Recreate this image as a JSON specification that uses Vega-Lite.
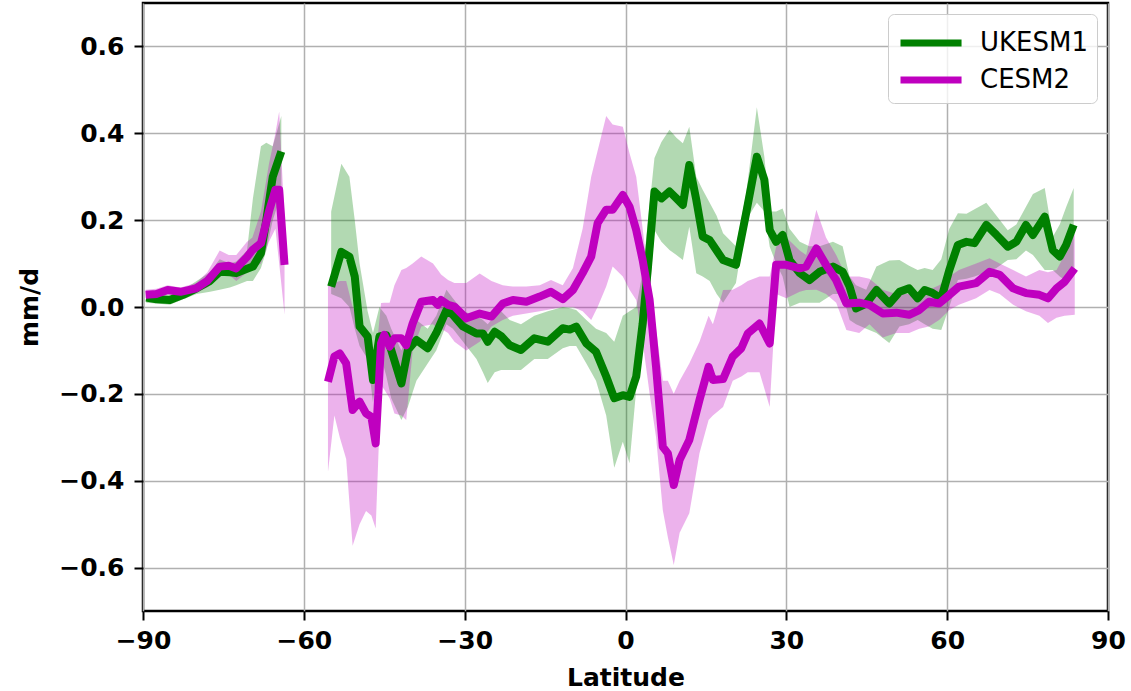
{
  "$schema": "https://vega.github.io/schema/vega-lite/v6.json",
  "autosize": {"type": "none"},
  "padding": {"left": 143, "top": 3, "right": 23, "bottom": 80},
  "width": 965,
  "height": 608,
  "background": "white",
  "config": {
    "view": {"stroke": "black", "strokeWidth": 2.5},
    "font": "DejaVu Sans",
    "axis": {
      "domain": false,
      "grid": true,
      "gridColor": "#b0b0b0",
      "gridWidth": 1.5,
      "tickColor": "black",
      "tickWidth": 2,
      "tickSize": 9,
      "labelFlush": false,
      "labelFont": "DejaVu Sans",
      "labelFontSize": 25,
      "labelFontWeight": "bold",
      "labelColor": "black",
      "titleFont": "DejaVu Sans",
      "titleFontSize": 25,
      "titleFontWeight": "bold",
      "titleColor": "black"
    }
  },
  "data": {"values": [
    {"m":"UKESM1","s":"A","lat":-89.4,"y":0.022,"lo":0.010,"hi":0.035},
    {"m":"UKESM1","s":"A","lat":-87.5,"y":0.018,"lo":0.008,"hi":0.030},
    {"m":"UKESM1","s":"A","lat":-85.0,"y":0.016,"lo":0.005,"hi":0.028},
    {"m":"UKESM1","s":"A","lat":-82.5,"y":0.028,"lo":0.018,"hi":0.040},
    {"m":"UKESM1","s":"A","lat":-80.0,"y":0.043,"lo":0.030,"hi":0.060},
    {"m":"UKESM1","s":"A","lat":-77.5,"y":0.060,"lo":0.035,"hi":0.080},
    {"m":"UKESM1","s":"A","lat":-75.7,"y":0.081,"lo":0.040,"hi":0.110},
    {"m":"UKESM1","s":"A","lat":-73.8,"y":0.080,"lo":0.045,"hi":0.100},
    {"m":"UKESM1","s":"A","lat":-72.6,"y":0.078,"lo":0.050,"hi":0.105},
    {"m":"UKESM1","s":"A","lat":-70.6,"y":0.088,"lo":0.060,"hi":0.130},
    {"m":"UKESM1","s":"A","lat":-69.5,"y":0.093,"lo":0.060,"hi":0.250},
    {"m":"UKESM1","s":"A","lat":-68.0,"y":0.124,"lo":0.090,"hi":0.370},
    {"m":"UKESM1","s":"A","lat":-67.0,"y":0.200,"lo":0.130,"hi":0.378},
    {"m":"UKESM1","s":"A","lat":-65.8,"y":0.300,"lo":0.200,"hi":0.370},
    {"m":"UKESM1","s":"A","lat":-64.2,"y":0.358,"lo":0.260,"hi":0.440},
    {"m":"UKESM1","s":"B","lat":-54.9,"y":0.047,"lo":0.03,"hi":0.22},
    {"m":"UKESM1","s":"B","lat":-53.0,"y":0.127,"lo":0.02,"hi":0.33},
    {"m":"UKESM1","s":"B","lat":-51.5,"y":0.116,"lo":0.00,"hi":0.30},
    {"m":"UKESM1","s":"B","lat":-50.5,"y":0.070,"lo":-0.05,"hi":0.20},
    {"m":"UKESM1","s":"B","lat":-49.6,"y":-0.045,"lo":-0.09,"hi":0.10},
    {"m":"UKESM1","s":"B","lat":-48.1,"y":-0.068,"lo":-0.12,"hi":-0.01},
    {"m":"UKESM1","s":"B","lat":-47.1,"y":-0.168,"lo":-0.22,"hi":-0.06},
    {"m":"UKESM1","s":"B","lat":-45.9,"y":-0.068,"lo":-0.10,"hi":0.00},
    {"m":"UKESM1","s":"B","lat":-44.6,"y":-0.065,"lo":-0.16,"hi":-0.02},
    {"m":"UKESM1","s":"B","lat":-43.7,"y":-0.099,"lo":-0.21,"hi":-0.05},
    {"m":"UKESM1","s":"B","lat":-41.8,"y":-0.176,"lo":-0.26,"hi":-0.10},
    {"m":"UKESM1","s":"B","lat":-40.6,"y":-0.099,"lo":-0.23,"hi":-0.06},
    {"m":"UKESM1","s":"B","lat":-39.0,"y":-0.076,"lo":-0.17,"hi":-0.03},
    {"m":"UKESM1","s":"B","lat":-36.9,"y":-0.095,"lo":-0.13,"hi":-0.05},
    {"m":"UKESM1","s":"B","lat":-35.3,"y":-0.060,"lo":-0.10,"hi":-0.02},
    {"m":"UKESM1","s":"B","lat":-33.4,"y":-0.007,"lo":-0.04,"hi":0.04},
    {"m":"UKESM1","s":"B","lat":-32.2,"y":-0.018,"lo":-0.05,"hi":0.02},
    {"m":"UKESM1","s":"B","lat":-30.3,"y":-0.045,"lo":-0.08,"hi":-0.01},
    {"m":"UKESM1","s":"B","lat":-27.8,"y":-0.061,"lo":-0.12,"hi":-0.02},
    {"m":"UKESM1","s":"B","lat":-26.6,"y":-0.061,"lo":-0.15,"hi":-0.03},
    {"m":"UKESM1","s":"B","lat":-25.7,"y":-0.080,"lo":-0.175,"hi":-0.04},
    {"m":"UKESM1","s":"B","lat":-24.4,"y":-0.057,"lo":-0.15,"hi":-0.02},
    {"m":"UKESM1","s":"B","lat":-23.2,"y":-0.067,"lo":-0.145,"hi":-0.01},
    {"m":"UKESM1","s":"B","lat":-21.6,"y":-0.088,"lo":-0.145,"hi":-0.03},
    {"m":"UKESM1","s":"B","lat":-19.5,"y":-0.099,"lo":-0.145,"hi":-0.04},
    {"m":"UKESM1","s":"B","lat":-17.0,"y":-0.072,"lo":-0.12,"hi":-0.02},
    {"m":"UKESM1","s":"B","lat":-14.5,"y":-0.080,"lo":-0.12,"hi":-0.01},
    {"m":"UKESM1","s":"B","lat":-11.7,"y":-0.049,"lo":-0.095,"hi":0.00},
    {"m":"UKESM1","s":"B","lat":-10.4,"y":-0.052,"lo":-0.09,"hi":-0.003},
    {"m":"UKESM1","s":"B","lat":-9.2,"y":-0.045,"lo":-0.09,"hi":-0.007},
    {"m":"UKESM1","s":"B","lat":-7.3,"y":-0.084,"lo":-0.13,"hi":-0.03},
    {"m":"UKESM1","s":"B","lat":-5.5,"y":-0.103,"lo":-0.17,"hi":-0.05},
    {"m":"UKESM1","s":"B","lat":-3.6,"y":-0.160,"lo":-0.25,"hi":-0.06},
    {"m":"UKESM1","s":"B","lat":-2.1,"y":-0.210,"lo":-0.37,"hi":-0.08},
    {"m":"UKESM1","s":"B","lat":-0.5,"y":-0.203,"lo":-0.31,"hi":-0.02},
    {"m":"UKESM1","s":"B","lat":0.75,"y":-0.207,"lo":-0.36,"hi":-0.01},
    {"m":"UKESM1","s":"B","lat":2.0,"y":-0.160,"lo":-0.19,"hi":0.00},
    {"m":"UKESM1","s":"B","lat":3.2,"y":-0.038,"lo":-0.10,"hi":0.08},
    {"m":"UKESM1","s":"B","lat":4.2,"y":0.093,"lo":-0.02,"hi":0.20},
    {"m":"UKESM1","s":"B","lat":5.4,"y":0.266,"lo":0.177,"hi":0.343},
    {"m":"UKESM1","s":"B","lat":6.7,"y":0.250,"lo":0.15,"hi":0.38},
    {"m":"UKESM1","s":"B","lat":8.2,"y":0.266,"lo":0.131,"hi":0.408},
    {"m":"UKESM1","s":"B","lat":9.5,"y":0.250,"lo":0.12,"hi":0.39},
    {"m":"UKESM1","s":"B","lat":10.7,"y":0.235,"lo":0.108,"hi":0.377},
    {"m":"UKESM1","s":"B","lat":11.9,"y":0.327,"lo":0.185,"hi":0.415},
    {"m":"UKESM1","s":"B","lat":13.2,"y":0.247,"lo":0.078,"hi":0.30},
    {"m":"UKESM1","s":"B","lat":14.4,"y":0.162,"lo":0.07,"hi":0.27},
    {"m":"UKESM1","s":"B","lat":15.7,"y":0.154,"lo":0.06,"hi":0.24},
    {"m":"UKESM1","s":"B","lat":17.0,"y":0.130,"lo":0.03,"hi":0.21},
    {"m":"UKESM1","s":"B","lat":18.2,"y":0.108,"lo":0.01,"hi":0.17},
    {"m":"UKESM1","s":"B","lat":20.6,"y":0.097,"lo":0.055,"hi":0.14},
    {"m":"UKESM1","s":"B","lat":22.5,"y":0.216,"lo":0.20,"hi":0.26},
    {"m":"UKESM1","s":"B","lat":24.5,"y":0.346,"lo":0.24,"hi":0.46},
    {"m":"UKESM1","s":"B","lat":25.9,"y":0.293,"lo":0.22,"hi":0.346},
    {"m":"UKESM1","s":"B","lat":26.9,"y":0.177,"lo":0.139,"hi":0.22},
    {"m":"UKESM1","s":"B","lat":28.1,"y":0.150,"lo":0.10,"hi":0.22},
    {"m":"UKESM1","s":"B","lat":29.3,"y":0.166,"lo":0.07,"hi":0.227},
    {"m":"UKESM1","s":"B","lat":30.6,"y":0.108,"lo":0.00,"hi":0.18},
    {"m":"UKESM1","s":"B","lat":32.5,"y":0.078,"lo":0.01,"hi":0.15},
    {"m":"UKESM1","s":"B","lat":34.3,"y":0.062,"lo":0.01,"hi":0.14},
    {"m":"UKESM1","s":"B","lat":36.2,"y":0.081,"lo":0.01,"hi":0.14},
    {"m":"UKESM1","s":"B","lat":38.7,"y":0.093,"lo":0.03,"hi":0.15},
    {"m":"UKESM1","s":"B","lat":40.5,"y":0.081,"lo":0.03,"hi":0.14},
    {"m":"UKESM1","s":"B","lat":41.8,"y":0.047,"lo":-0.03,"hi":0.07},
    {"m":"UKESM1","s":"B","lat":43.0,"y":-0.003,"lo":-0.04,"hi":0.05},
    {"m":"UKESM1","s":"B","lat":44.9,"y":0.008,"lo":-0.05,"hi":0.04},
    {"m":"UKESM1","s":"B","lat":46.8,"y":0.039,"lo":-0.06,"hi":0.093},
    {"m":"UKESM1","s":"B","lat":49.2,"y":0.008,"lo":-0.083,"hi":0.107},
    {"m":"UKESM1","s":"B","lat":51.1,"y":0.035,"lo":-0.045,"hi":0.108},
    {"m":"UKESM1","s":"B","lat":52.9,"y":0.043,"lo":-0.04,"hi":0.095},
    {"m":"UKESM1","s":"B","lat":54.5,"y":0.020,"lo":-0.03,"hi":0.085},
    {"m":"UKESM1","s":"B","lat":55.8,"y":0.039,"lo":-0.04,"hi":0.09},
    {"m":"UKESM1","s":"B","lat":57.3,"y":0.032,"lo":-0.05,"hi":0.085},
    {"m":"UKESM1","s":"B","lat":58.9,"y":0.020,"lo":-0.053,"hi":0.11},
    {"m":"UKESM1","s":"B","lat":60.4,"y":0.085,"lo":0.00,"hi":0.18},
    {"m":"UKESM1","s":"B","lat":62.0,"y":0.143,"lo":0.062,"hi":0.216},
    {"m":"UKESM1","s":"B","lat":63.6,"y":0.150,"lo":0.065,"hi":0.215},
    {"m":"UKESM1","s":"B","lat":65.1,"y":0.147,"lo":0.07,"hi":0.225},
    {"m":"UKESM1","s":"B","lat":67.3,"y":0.189,"lo":0.08,"hi":0.24},
    {"m":"UKESM1","s":"B","lat":69.2,"y":0.166,"lo":0.09,"hi":0.21},
    {"m":"UKESM1","s":"B","lat":71.3,"y":0.139,"lo":0.108,"hi":0.177},
    {"m":"UKESM1","s":"B","lat":72.9,"y":0.150,"lo":0.11,"hi":0.19},
    {"m":"UKESM1","s":"B","lat":74.7,"y":0.189,"lo":0.13,"hi":0.231},
    {"m":"UKESM1","s":"B","lat":76.0,"y":0.166,"lo":0.12,"hi":0.26},
    {"m":"UKESM1","s":"B","lat":78.2,"y":0.208,"lo":0.085,"hi":0.274},
    {"m":"UKESM1","s":"B","lat":79.7,"y":0.131,"lo":0.085,"hi":0.162},
    {"m":"UKESM1","s":"B","lat":81.0,"y":0.116,"lo":0.07,"hi":0.19},
    {"m":"UKESM1","s":"B","lat":82.2,"y":0.143,"lo":0.06,"hi":0.23},
    {"m":"UKESM1","s":"B","lat":83.6,"y":0.189,"lo":0.085,"hi":0.274},
    {"m":"CESM2","s":"A","lat":-89.5,"y":0.028,"lo":0.020,"hi":0.040},
    {"m":"CESM2","s":"A","lat":-87.5,"y":0.030,"lo":0.020,"hi":0.042},
    {"m":"CESM2","s":"A","lat":-85.4,"y":0.039,"lo":0.028,"hi":0.050},
    {"m":"CESM2","s":"A","lat":-83.0,"y":0.035,"lo":0.025,"hi":0.045},
    {"m":"CESM2","s":"A","lat":-80.1,"y":0.043,"lo":0.032,"hi":0.055},
    {"m":"CESM2","s":"A","lat":-78.0,"y":0.060,"lo":0.045,"hi":0.080},
    {"m":"CESM2","s":"A","lat":-75.7,"y":0.093,"lo":0.070,"hi":0.130},
    {"m":"CESM2","s":"A","lat":-74.0,"y":0.095,"lo":0.075,"hi":0.120},
    {"m":"CESM2","s":"A","lat":-72.6,"y":0.089,"lo":0.060,"hi":0.120},
    {"m":"CESM2","s":"A","lat":-70.6,"y":0.115,"lo":0.080,"hi":0.150},
    {"m":"CESM2","s":"A","lat":-69.6,"y":0.131,"lo":0.090,"hi":0.160},
    {"m":"CESM2","s":"A","lat":-68.0,"y":0.147,"lo":0.100,"hi":0.220},
    {"m":"CESM2","s":"A","lat":-66.5,"y":0.220,"lo":0.150,"hi":0.330},
    {"m":"CESM2","s":"A","lat":-65.3,"y":0.270,"lo":0.180,"hi":0.400},
    {"m":"CESM2","s":"A","lat":-64.6,"y":0.270,"lo":0.100,"hi":0.450},
    {"m":"CESM2","s":"A","lat":-63.6,"y":0.097,"lo":-0.018,"hi":0.200},
    {"m":"CESM2","s":"B","lat":-55.5,"y":-0.172,"lo":-0.38,"hi":0.055},
    {"m":"CESM2","s":"B","lat":-54.3,"y":-0.114,"lo":-0.25,"hi":0.055},
    {"m":"CESM2","s":"B","lat":-53.3,"y":-0.107,"lo":-0.30,"hi":0.06},
    {"m":"CESM2","s":"B","lat":-52.1,"y":-0.130,"lo":-0.35,"hi":0.06},
    {"m":"CESM2","s":"B","lat":-50.9,"y":-0.237,"lo":-0.55,"hi":0.00},
    {"m":"CESM2","s":"B","lat":-49.6,"y":-0.218,"lo":-0.50,"hi":-0.03},
    {"m":"CESM2","s":"B","lat":-48.4,"y":-0.245,"lo":-0.47,"hi":-0.05},
    {"m":"CESM2","s":"B","lat":-47.4,"y":-0.253,"lo":-0.48,"hi":-0.10},
    {"m":"CESM2","s":"B","lat":-46.6,"y":-0.314,"lo":-0.51,"hi":-0.12},
    {"m":"CESM2","s":"B","lat":-45.6,"y":-0.084,"lo":-0.18,"hi":0.009},
    {"m":"CESM2","s":"B","lat":-45.0,"y":-0.064,"lo":-0.19,"hi":0.01},
    {"m":"CESM2","s":"B","lat":-44.0,"y":-0.091,"lo":-0.21,"hi":0.01},
    {"m":"CESM2","s":"B","lat":-43.1,"y":-0.072,"lo":-0.245,"hi":0.05},
    {"m":"CESM2","s":"B","lat":-41.8,"y":-0.072,"lo":-0.25,"hi":0.085},
    {"m":"CESM2","s":"B","lat":-40.9,"y":-0.088,"lo":-0.26,"hi":0.09},
    {"m":"CESM2","s":"B","lat":-39.7,"y":-0.038,"lo":-0.10,"hi":0.10},
    {"m":"CESM2","s":"B","lat":-38.1,"y":0.012,"lo":-0.045,"hi":0.116},
    {"m":"CESM2","s":"B","lat":-35.9,"y":0.016,"lo":-0.04,"hi":0.10},
    {"m":"CESM2","s":"B","lat":-35.0,"y":0.005,"lo":-0.05,"hi":0.085},
    {"m":"CESM2","s":"B","lat":-34.4,"y":0.016,"lo":-0.05,"hi":0.075},
    {"m":"CESM2","s":"B","lat":-33.1,"y":0.005,"lo":-0.06,"hi":0.062},
    {"m":"CESM2","s":"B","lat":-31.9,"y":0.001,"lo":-0.08,"hi":0.055},
    {"m":"CESM2","s":"B","lat":-29.7,"y":-0.026,"lo":-0.10,"hi":0.055},
    {"m":"CESM2","s":"B","lat":-27.2,"y":-0.015,"lo":-0.08,"hi":0.077},
    {"m":"CESM2","s":"B","lat":-25.0,"y":-0.022,"lo":-0.045,"hi":0.06},
    {"m":"CESM2","s":"B","lat":-22.9,"y":0.008,"lo":-0.03,"hi":0.05},
    {"m":"CESM2","s":"B","lat":-21.0,"y":0.016,"lo":-0.02,"hi":0.047},
    {"m":"CESM2","s":"B","lat":-18.5,"y":0.012,"lo":-0.015,"hi":0.047},
    {"m":"CESM2","s":"B","lat":-16.0,"y":0.024,"lo":-0.01,"hi":0.05},
    {"m":"CESM2","s":"B","lat":-13.9,"y":0.035,"lo":-0.005,"hi":0.062},
    {"m":"CESM2","s":"B","lat":-11.7,"y":0.018,"lo":0.00,"hi":0.05},
    {"m":"CESM2","s":"B","lat":-9.8,"y":0.039,"lo":0.00,"hi":0.09},
    {"m":"CESM2","s":"B","lat":-8.0,"y":0.078,"lo":-0.01,"hi":0.18},
    {"m":"CESM2","s":"B","lat":-6.4,"y":0.116,"lo":-0.03,"hi":0.30},
    {"m":"CESM2","s":"B","lat":-5.2,"y":0.193,"lo":0.00,"hi":0.36},
    {"m":"CESM2","s":"B","lat":-3.6,"y":0.224,"lo":0.047,"hi":0.44},
    {"m":"CESM2","s":"B","lat":-2.4,"y":0.224,"lo":0.093,"hi":0.42},
    {"m":"CESM2","s":"B","lat":-0.5,"y":0.258,"lo":0.07,"hi":0.415},
    {"m":"CESM2","s":"B","lat":0.75,"y":0.231,"lo":0.04,"hi":0.354},
    {"m":"CESM2","s":"B","lat":2.0,"y":0.177,"lo":0.016,"hi":0.30},
    {"m":"CESM2","s":"B","lat":3.2,"y":0.108,"lo":-0.08,"hi":0.18},
    {"m":"CESM2","s":"B","lat":4.5,"y":0.016,"lo":-0.20,"hi":0.05},
    {"m":"CESM2","s":"B","lat":5.7,"y":-0.138,"lo":-0.30,"hi":-0.05},
    {"m":"CESM2","s":"B","lat":6.96,"y":-0.322,"lo":-0.468,"hi":-0.17},
    {"m":"CESM2","s":"B","lat":7.9,"y":-0.337,"lo":-0.53,"hi":-0.17},
    {"m":"CESM2","s":"B","lat":9.0,"y":-0.410,"lo":-0.594,"hi":-0.20},
    {"m":"CESM2","s":"B","lat":10.1,"y":-0.352,"lo":-0.52,"hi":-0.17},
    {"m":"CESM2","s":"B","lat":11.9,"y":-0.306,"lo":-0.475,"hi":-0.13},
    {"m":"CESM2","s":"B","lat":13.8,"y":-0.214,"lo":-0.337,"hi":-0.08},
    {"m":"CESM2","s":"B","lat":15.5,"y":-0.138,"lo":-0.26,"hi":-0.02},
    {"m":"CESM2","s":"B","lat":16.3,"y":-0.168,"lo":-0.25,"hi":-0.04},
    {"m":"CESM2","s":"B","lat":18.2,"y":-0.166,"lo":-0.23,"hi":0.039},
    {"m":"CESM2","s":"B","lat":20.0,"y":-0.114,"lo":-0.17,"hi":0.04},
    {"m":"CESM2","s":"B","lat":21.6,"y":-0.095,"lo":-0.16,"hi":0.05},
    {"m":"CESM2","s":"B","lat":22.8,"y":-0.061,"lo":-0.15,"hi":0.06},
    {"m":"CESM2","s":"B","lat":25.0,"y":-0.038,"lo":-0.15,"hi":0.07},
    {"m":"CESM2","s":"B","lat":26.9,"y":-0.084,"lo":-0.23,"hi":0.07},
    {"m":"CESM2","s":"B","lat":28.1,"y":0.097,"lo":0.03,"hi":0.139},
    {"m":"CESM2","s":"B","lat":30.0,"y":0.097,"lo":0.02,"hi":0.16},
    {"m":"CESM2","s":"B","lat":32.5,"y":0.089,"lo":0.035,"hi":0.13},
    {"m":"CESM2","s":"B","lat":33.7,"y":0.093,"lo":0.039,"hi":0.12},
    {"m":"CESM2","s":"B","lat":35.6,"y":0.135,"lo":0.04,"hi":0.224},
    {"m":"CESM2","s":"B","lat":37.4,"y":0.097,"lo":0.03,"hi":0.16},
    {"m":"CESM2","s":"B","lat":39.3,"y":0.062,"lo":0.01,"hi":0.12},
    {"m":"CESM2","s":"B","lat":41.2,"y":0.008,"lo":-0.053,"hi":0.07},
    {"m":"CESM2","s":"B","lat":43.6,"y":0.010,"lo":-0.06,"hi":0.07},
    {"m":"CESM2","s":"B","lat":45.5,"y":0.005,"lo":-0.04,"hi":0.065},
    {"m":"CESM2","s":"B","lat":48.0,"y":-0.015,"lo":-0.07,"hi":0.04},
    {"m":"CESM2","s":"B","lat":50.5,"y":-0.013,"lo":-0.06,"hi":0.03},
    {"m":"CESM2","s":"B","lat":52.9,"y":-0.018,"lo":-0.06,"hi":0.03},
    {"m":"CESM2","s":"B","lat":54.8,"y":-0.007,"lo":-0.05,"hi":0.03},
    {"m":"CESM2","s":"B","lat":56.6,"y":0.012,"lo":-0.045,"hi":0.04},
    {"m":"CESM2","s":"B","lat":58.5,"y":0.008,"lo":-0.03,"hi":0.05},
    {"m":"CESM2","s":"B","lat":60.4,"y":0.028,"lo":-0.007,"hi":0.07},
    {"m":"CESM2","s":"B","lat":62.2,"y":0.047,"lo":0.005,"hi":0.085},
    {"m":"CESM2","s":"B","lat":65.4,"y":0.055,"lo":0.02,"hi":0.10},
    {"m":"CESM2","s":"B","lat":67.9,"y":0.081,"lo":0.039,"hi":0.112},
    {"m":"CESM2","s":"B","lat":69.8,"y":0.074,"lo":0.03,"hi":0.10},
    {"m":"CESM2","s":"B","lat":72.3,"y":0.043,"lo":0.005,"hi":0.085},
    {"m":"CESM2","s":"B","lat":74.7,"y":0.032,"lo":-0.01,"hi":0.07},
    {"m":"CESM2","s":"B","lat":77.2,"y":0.028,"lo":-0.02,"hi":0.085},
    {"m":"CESM2","s":"B","lat":78.8,"y":0.020,"lo":-0.037,"hi":0.08},
    {"m":"CESM2","s":"B","lat":80.4,"y":0.043,"lo":-0.025,"hi":0.085},
    {"m":"CESM2","s":"B","lat":81.9,"y":0.058,"lo":-0.02,"hi":0.12},
    {"m":"CESM2","s":"B","lat":83.8,"y":0.089,"lo":-0.018,"hi":0.17}
  ]},
  "layer": [
    {
      "mark": {"type": "area", "opacity": 0.3, "orient": "vertical"},
      "encoding": {
        "x": {
          "field": "lat", "type": "quantitative",
          "scale": {"domain": [-90, 90], "nice": false, "zero": false},
          "axis": {"values": [-90, -60, -30, 0, 30, 60, 90], "title": "Latitude", "labelPadding": 8, "titlePadding": 12}
        },
        "y": {"field": "lo", "type": "quantitative",
          "scale": {"domain": [-0.7, 0.7], "nice": false, "zero": false},
          "axis": {"values": [-0.6, -0.4, -0.2, 0, 0.2, 0.4, 0.6], "format": ".1f", "title": "mm/d", "labelPadding": 10, "titlePadding": 16}},
        "y2": {"field": "hi"},
        "color": {"field": "m", "type": "nominal",
          "scale": {"domain": ["UKESM1", "CESM2"], "range": ["#008000", "#bf00bf"]},
          "legend": {
            "title": null, "orient": "top-right", "offset": 11,
            "symbolType": "M-1,0H2.7", "symbolSize": 1089, "symbolStrokeWidth": 7, "symbolOpacity": 1,
            "labelFont": "DejaVu Sans", "labelFontSize": 26, "labelColor": "black",
            "labelOffset": 43, "rowPadding": 3,
            "fillColor": "rgba(255,255,255,0.8)", "strokeColor": "#cccccc", "cornerRadius": 6, "padding": 9
          }},
        "detail": {"field": "s", "type": "nominal"}
      }
    },
    {
      "mark": {"type": "line", "strokeWidth": 8, "strokeJoin": "round", "strokeCap": "butt"},
      "encoding": {
        "x": {"field": "lat", "type": "quantitative"},
        "y": {"field": "y", "type": "quantitative"},
        "color": {"field": "m", "type": "nominal"},
        "detail": {"field": "s", "type": "nominal"}
      }
    }
  ]
}
